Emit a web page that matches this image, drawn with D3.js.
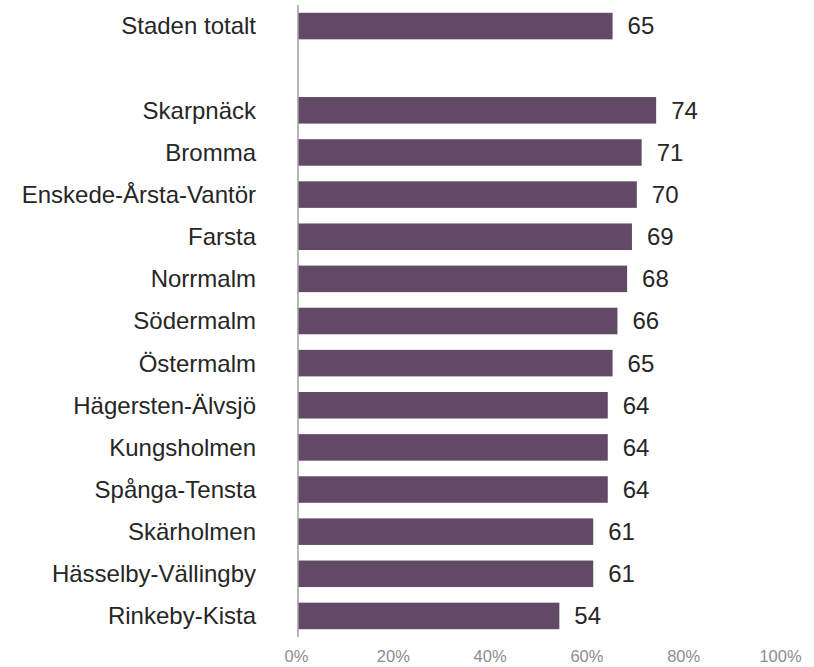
<!DOCTYPE html>
<html>
<head>
<meta charset="utf-8">
<script src="https://cdn.jsdelivr.net/npm/d3@7"></script>
<style>
  html, body { margin: 0; padding: 0; background: #fff; }
  svg { display: block; font-family: "Liberation Sans", Arial, sans-serif; }
</style>
</head>
<body>
<svg id="chart" width="814" height="667"></svg>
<script>
const categories = ["Staden totalt", "", "Skarpnäck", "Bromma", "Enskede-Årsta-Vantör", "Farsta", "Norrmalm",
  "Södermalm", "Östermalm", "Hägersten-Älvsjö", "Kungsholmen", "Spånga-Tensta", "Skärholmen",
  "Hässelby-Vällingby", "Rinkeby-Kista"];
const values = [65, null, 74, 71, 70, 69, 68, 66, 65, 64, 64, 64, 61, 61, 54];
const tickValues = [0, 20, 40, 60, 80, 100];
const tickLabels = ["0%", "20%", "40%", "60%", "80%", "100%"];

const svg = d3.select("#chart");
const x = d3.scaleLinear().domain([0, 100]).range([298, 782]);
const keys = categories.map((c, i) => i);
const y = d3.scaleBand().domain(keys).range([5, 637]).paddingInner(0.37).paddingOuter(0.185);

const data = categories.map((c, i) => ({ i, c, v: values[i] })).filter(d => d.v !== null);

svg.append("g").selectAll("rect").data(data).join("rect")
  .attr("x", x(0))
  .attr("y", d => y(d.i))
  .attr("width", d => x(d.v) - x(0))
  .attr("height", y.bandwidth())
  .attr("fill", "#624a67");

// category labels
svg.append("g").selectAll("text").data(data).join("text")
  .attr("x", 256)
  .attr("y", d => y(d.i) + y.bandwidth() / 2)
  .attr("dy", "0.35em")
  .attr("text-anchor", "end")
  .attr("font-size", 24)
  .attr("fill", "#262626")
  .text(d => d.c);

// value labels
svg.append("g").selectAll("text").data(data).join("text")
  .attr("x", d => x(d.v) + 15)
  .attr("y", d => y(d.i) + y.bandwidth() / 2)
  .attr("dy", "0.35em")
  .attr("font-size", 24)
  .attr("fill", "#262626")
  .text(d => d.v);

// vertical axis line
svg.append("line")
  .attr("x1", x(0)).attr("x2", x(0))
  .attr("y1", 5).attr("y2", 637)
  .attr("stroke", "#a0a0a0")
  .attr("stroke-width", 1.5);

// x axis tick labels
const xAxis = d3.axisBottom(x).tickValues(tickValues).tickFormat((d, i) => tickLabels[i]).tickSize(0).tickPadding(0);
const gx = svg.append("g").attr("transform", "translate(-2,650)").call(xAxis);
gx.select(".domain").remove();
gx.selectAll("text").attr("font-size", 16.5).attr("fill", "#8c8c8c")
  .attr("font-family", "\"Liberation Sans\", Arial, sans-serif");
</script>
</body>
</html>
